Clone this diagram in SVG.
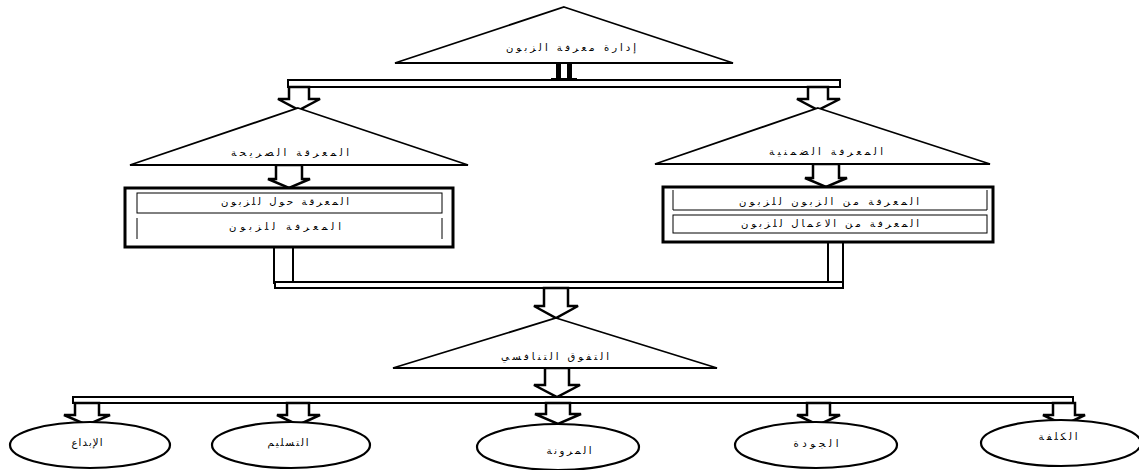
<svg xmlns="http://www.w3.org/2000/svg" width="1139" height="470" viewBox="0 0 1139 470">
  <style>
    .tri { fill: #fff; stroke: #000; stroke-width: 1.8; stroke-linejoin: miter; }
    .ell { fill: #fff; stroke: #000; stroke-width: 2.2; }
    .bar { fill: #fff; stroke: #000; stroke-width: 2; }
    .arr { fill: #fff; stroke: #000; stroke-width: 2.5; stroke-linejoin: miter; }
    .box { fill: #fff; stroke: #000; stroke-width: 3; }
    .cell { fill: none; stroke: #000; stroke-width: 1; }
    .lbl { font-family: "DejaVu Sans", "Liberation Sans", sans-serif; font-size: 10px; fill: #000; text-anchor: middle; direction: rtl; unicode-bidi: embed; }
  </style>

  <!-- connectors: double-line bars and hollow block arrows -->
  <g id="connectors">
    <!-- stem under the top triangle -->
    <rect x="556" y="63" width="5" height="17" fill="#000"/>
    <rect x="567" y="63" width="5" height="17" fill="#000"/>
    <rect x="551" y="78" width="26" height="2" fill="#000"/>
    <!-- top split bar -->
    <rect class="bar" x="288" y="80" width="552" height="7"/>
    <!-- arrows down to the two knowledge triangles -->
    <polygon class="arr" points="289,87 309,87 309,99 320,99 299,110 278,99 289,99"/>
    <polygon class="arr" points="808,87 828,87 828,99 840,99 818,110 797,99 808,99"/>
    <!-- arrows from triangles into boxes -->
    <polygon class="arr" points="276,165 302,165 302,179 310,179 289,188 268,179 276,179"/>
    <polygon class="arr" points="813,164 839,164 839,178 847,178 826,187 805,178 813,178"/>
    <!-- stems from boxes down to the joining bar -->
    <rect class="bar" x="274" y="247" width="19" height="36"/>
    <rect class="bar" x="828" y="242" width="15" height="41"/>
    <rect class="bar" x="275" y="282" width="568" height="6"/>
    <!-- arrow into competitive advantage triangle -->
    <polygon class="arr" points="544,288 568,288 568,306 578,306 556,318 534,306 544,306"/>
    <!-- arrow from triangle to the lower bar -->
    <polygon class="arr" points="545,368 569,368 569,385 580,385 557,397 534,385 545,385"/>
    <!-- lower distribution bar -->
    <rect class="bar" x="73" y="397" width="1000" height="6"/>
    <!-- arrows to the five ellipses -->
    <polygon class="arr" points="75,403 99,403 99,415 110,415 87,425 64,415 75,415"/>
    <polygon class="arr" points="287,403 309,403 309,415 320,415 298,425 277,415 287,415"/>
    <polygon class="arr" points="546,403 570,403 570,414 581,414 558,424 535,414 546,414"/>
    <polygon class="arr" points="807,403 830,403 830,415 840,415 818,425 797,415 807,415"/>
    <polygon class="arr" points="1053,403 1075,403 1075,415 1085,415 1064,425 1043,415 1053,415"/>
  </g>

  <g id="customer-knowledge-mgmt">
    <polygon class="tri" points="564,7 733,63 395,63"/>
    <text class="lbl" x="571" y="51" textLength="130" lengthAdjust="spacing">إدارة معرفة الزبون</text>
  </g>

  <g id="explicit-knowledge">
    <polygon class="tri" points="298,108 468,165 130,165"/>
    <text class="lbl" x="290" y="156" textLength="118" lengthAdjust="spacing">المعرقة الصريحة</text>
  </g>

  <g id="tacit-knowledge">
    <polygon class="tri" points="818,108 990,164 655,164"/>
    <text class="lbl" x="826" y="155" textLength="114" lengthAdjust="spacing">المعرفة الضمنية</text>
  </g>

  <g id="explicit-box">
    <rect class="box" x="125" y="188" width="328" height="59"/>
    <rect class="cell" x="137" y="193" width="305" height="20"/>
    <line class="cell" x1="137" y1="218" x2="137" y2="239"/>
    <line class="cell" x1="442" y1="218" x2="442" y2="239"/>
    <text class="lbl" x="285" y="205" textLength="128" lengthAdjust="spacing">المعرقة حول للزبون</text>
    <text class="lbl" x="285" y="230" textLength="112" lengthAdjust="spacing">المعرفة للزبون</text>
  </g>

  <g id="tacit-box">
    <rect class="box" x="663" y="187" width="330" height="55"/>
    <line class="cell" x1="673" y1="190" x2="673" y2="210"/>
    <line class="cell" x1="987" y1="190" x2="987" y2="210"/>
    <line class="cell" x1="673" y1="210" x2="987" y2="210"/>
    <rect class="cell" x="673" y="215" width="314" height="18"/>
    <text class="lbl" x="829" y="205" textLength="180" lengthAdjust="spacing">المعرفة من الزبون للزبون</text>
    <text class="lbl" x="830" y="227" textLength="178" lengthAdjust="spacing">المعرفة من الاعمال للزبون</text>
  </g>

  <g id="competitive-advantage">
    <polygon class="tri" points="556,318 717,368 393,368"/>
    <text class="lbl" x="555" y="360" textLength="108" lengthAdjust="spacing">التفوق التنافسي</text>
  </g>

  <g id="innovation">
    <ellipse class="ell" cx="90" cy="445" rx="80" ry="23"/>
    <text class="lbl" x="87" y="446" textLength="31" lengthAdjust="spacing">الإبداع</text>
  </g>
  <g id="delivery">
    <ellipse class="ell" cx="291" cy="445" rx="79" ry="23"/>
    <text class="lbl" x="288" y="446" textLength="41" lengthAdjust="spacing">التسليم</text>
  </g>
  <g id="flexibility">
    <ellipse class="ell" cx="558" cy="447" rx="81" ry="23"/>
    <text class="lbl" x="569" y="454" textLength="45" lengthAdjust="spacing">المرونة</text>
  </g>
  <g id="quality">
    <ellipse class="ell" cx="816" cy="445" rx="81" ry="23"/>
    <text class="lbl" x="816" y="447" textLength="45" lengthAdjust="spacing">الجودة</text>
  </g>
  <g id="cost">
    <ellipse class="ell" cx="1061" cy="443" rx="80" ry="23"/>
    <text class="lbl" x="1058" y="440" textLength="39" lengthAdjust="spacing">الكلفة</text>
  </g>
</svg>
